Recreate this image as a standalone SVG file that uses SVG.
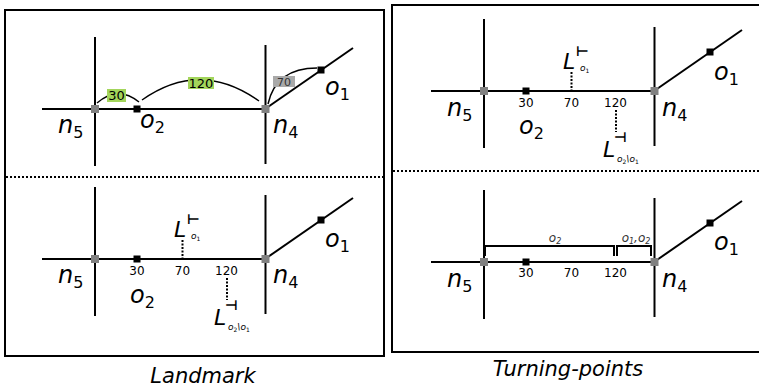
<svg xmlns="http://www.w3.org/2000/svg" width="759" height="388" viewBox="0 0 759 388">
<style>
text{font-family:"DejaVu Sans","Liberation Sans",sans-serif;fill:#000}
.big{font-size:24px;font-style:italic}
.sub{font-size:16px;font-style:normal}
.num{font-size:12px;text-anchor:middle}
.L{font-size:22px;font-style:italic}
.tack{font-size:14px;font-weight:bold;font-style:normal}
.ls{font-size:9px;font-style:italic}
.lss{font-size:6px;font-style:normal}
.cap{font-size:21px;font-style:italic;text-anchor:middle}
.road{stroke:#000;stroke-width:2;fill:none}
.frame{stroke:#000;stroke-width:2;fill:none}
.dot{stroke:#000;stroke-width:2;stroke-dasharray:2 2;fill:none}
.vdot{stroke:#000;stroke-width:2;stroke-dasharray:2 1.5;fill:none}
.junc{fill:#808080}
.obj{fill:#000}
.arc{stroke:#000;stroke-width:1.5;fill:none}
.green{fill:#a3d55b}
.grey{fill:#a9a9a9}
.br{stroke:#000;stroke-width:2;fill:none}
.bl{font-size:12px;font-style:italic;fill:#333;text-anchor:middle}
.bls{font-size:8px}
</style>
<defs>
<g id="roads">
<line class="road" x1="0" y1="-72" x2="0" y2="57"/>
<line class="road" x1="170.5" y1="-64" x2="170.5" y2="55"/>
<line class="road" x1="-53" y1="0" x2="170" y2="0"/>
<line class="road" x1="170" y1="0" x2="258" y2="-61"/>
</g>
</defs>

<rect class="frame" x="5" y="10" width="379" height="346"/>
<rect class="frame" x="392" y="5" width="372" height="347"/>
<line class="dot" x1="6" y1="177" x2="383" y2="177"/>
<line class="dot" x1="393" y1="171" x2="759" y2="171"/>

<!-- Left top -->
<g id="landmark-top" transform="translate(95,109)">
<g id="lt-connectors">
<use href="#roads"/>
<path class="arc" d="M2,-6 Q23,-24 44,-7"/>
<path class="arc" d="M47,-9 Q105,-50 164,-8"/>
<path class="arc" d="M173,-5 Q181,-41 222,-41"/>
</g>
<g id="lt-n5"><rect class="junc" x="-4" y="-4" width="8" height="8"/><text class="big" x="-37" y="24">n<tspan class="sub" dy="5">5</tspan></text></g>
<g id="lt-n4"><rect class="junc" x="166.5" y="-4" width="8" height="8"/><text class="big" x="178" y="24">n<tspan class="sub" dy="5">4</tspan></text></g>
<g id="lt-o2"><rect class="obj" x="38.5" y="-3.5" width="7" height="7"/><text class="big" x="45" y="19">o<tspan class="sub" dy="5">2</tspan></text></g>
<g id="lt-o1"><rect class="obj" x="222.5" y="-42.5" width="7" height="7"/><text class="big" x="230" y="-14">o<tspan class="sub" dy="5">1</tspan></text></g>
<g id="lt-w30"><rect class="green" x="12" y="-20" width="19" height="13"/><text class="num" x="21.5" y="-9.5" style="font-size:13px">30</text></g>
<g id="lt-w120"><rect class="green" x="93" y="-32" width="26" height="12"/><text class="num" x="106" y="-21.5" style="font-size:13px">120</text></g>
<g id="lt-w70"><rect class="grey" x="178" y="-33" width="22" height="11"/><text class="num" x="189" y="-23.5" style="font-size:11px;fill:#333">70</text></g>
</g>

<!-- Left bottom -->
<g id="landmark-bottom" transform="translate(95,259)">
<g id="lb-connectors">
<use href="#roads"/>
<line class="vdot" x1="87.5" y1="-19" x2="87.5" y2="-1"/>
<line class="vdot" x1="132" y1="19" x2="132" y2="41"/>
</g>
<g id="lb-n5"><rect class="junc" x="-4" y="-4" width="8" height="8"/><text class="big" x="-37" y="24">n<tspan class="sub" dy="5">5</tspan></text></g>
<g id="lb-n4"><rect class="junc" x="166.5" y="-4" width="8" height="8"/><text class="big" x="178" y="24">n<tspan class="sub" dy="5">4</tspan></text></g>
<g id="lb-o2"><rect class="obj" x="38.5" y="-3.5" width="7" height="7"/><text class="big" x="35" y="44">o<tspan class="sub" dy="5">2</tspan></text></g>
<g id="lb-o1"><rect class="obj" x="222.5" y="-42.5" width="7" height="7"/><text class="big" x="230" y="-12">o<tspan class="sub" dy="5">1</tspan></text></g>
<text class="num" x="42" y="16">30</text>
<text class="num" x="87.5" y="16">70</text>
<text class="num" x="131.5" y="16">120</text>
<g id="lb-Lleft"><text class="L" x="79" y="-22">L<tspan class="tack" x="92" y="-35">⊢</tspan><tspan class="ls" x="96" y="-20">o<tspan class="lss" dy="2">1</tspan></tspan></text></g>
<g id="lb-Lright"><text class="L" x="119" y="66">L<tspan class="tack" x="130" y="51">⊣</tspan><tspan class="ls" x="133" y="71">o<tspan class="lss" dy="2">2</tspan><tspan dy="-2">\o</tspan><tspan class="lss" dy="2">1</tspan></tspan></text></g>
</g>

<!-- Right top -->
<g id="turning-top" transform="translate(484,91)">
<g id="rt-connectors">
<use href="#roads"/>
<line class="vdot" x1="87.5" y1="-19" x2="87.5" y2="-1"/>
<line class="vdot" x1="132" y1="19" x2="132" y2="41"/>
</g>
<g id="rt-n5"><rect class="junc" x="-4" y="-4" width="8" height="8"/><text class="big" x="-37" y="25">n<tspan class="sub" dy="5">5</tspan></text></g>
<g id="rt-n4"><rect class="junc" x="166.5" y="-4" width="8" height="8"/><text class="big" x="178" y="25">n<tspan class="sub" dy="5">4</tspan></text></g>
<g id="rt-o2"><rect class="obj" x="38.5" y="-3.5" width="7" height="7"/><text class="big" x="35" y="43">o<tspan class="sub" dy="5">2</tspan></text></g>
<g id="rt-o1"><rect class="obj" x="222.5" y="-42.5" width="7" height="7"/><text class="big" x="230" y="-11">o<tspan class="sub" dy="5">1</tspan></text></g>
<text class="num" x="42" y="16">30</text>
<text class="num" x="87.5" y="16">70</text>
<text class="num" x="131.5" y="16">120</text>
<g id="rt-Lleft"><text class="L" x="79" y="-22">L<tspan class="tack" x="92" y="-35">⊢</tspan><tspan class="ls" x="96" y="-20">o<tspan class="lss" dy="2">1</tspan></tspan></text></g>
<g id="rt-Lright"><text class="L" x="119" y="66">L<tspan class="tack" x="130" y="51">⊣</tspan><tspan class="ls" x="133" y="71">o<tspan class="lss" dy="2">2</tspan><tspan dy="-2">\o</tspan><tspan class="lss" dy="2">1</tspan></tspan></text></g>
</g>

<!-- Right bottom -->
<g id="turning-bottom" transform="translate(484,262)">
<g id="rb-connectors">
<use href="#roads"/>
<path class="br" d="M1,-6 V-16 H130 V-6"/>
<path class="br" d="M133,-6 V-16 H167 V-6"/>
</g>
<g id="rb-n5"><rect class="junc" x="-4" y="-4" width="8" height="8"/><text class="big" x="-37" y="25">n<tspan class="sub" dy="5">5</tspan></text></g>
<g id="rb-n4"><rect class="junc" x="166.5" y="-4" width="8" height="8"/><text class="big" x="178" y="25">n<tspan class="sub" dy="5">4</tspan></text></g>
<g id="rb-o2"><rect class="obj" x="38.5" y="-3.5" width="7" height="7"/></g>
<g id="rb-o1"><rect class="obj" x="222.5" y="-42.5" width="7" height="7"/><text class="big" x="230" y="-12">o<tspan class="sub" dy="5">1</tspan></text></g>
<text class="num" x="42" y="15">30</text>
<text class="num" x="87.5" y="15">70</text>
<text class="num" x="131.5" y="15">120</text>
<text class="bl" x="71" y="-20">o<tspan class="bls" dy="2">2</tspan></text>
<text class="bl" x="152" y="-20">o<tspan class="bls" dy="2">1</tspan><tspan dy="-2">,o</tspan><tspan class="bls" dy="2">2</tspan></text>
</g>

<text class="cap" x="203" y="383">Landmark</text>
<text class="cap" x="568" y="376">Turning-points</text>
</svg>
